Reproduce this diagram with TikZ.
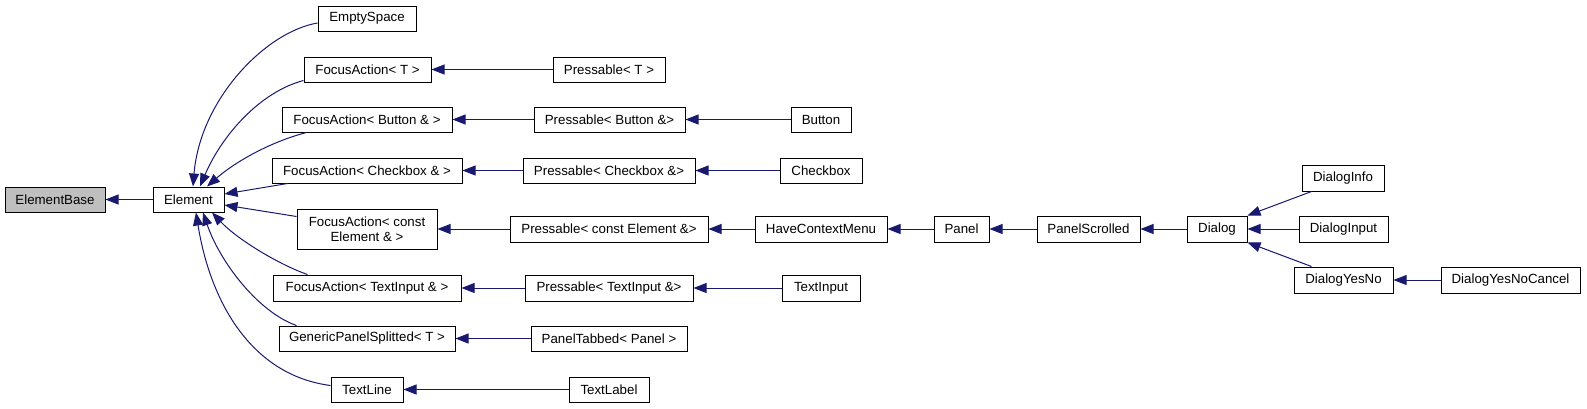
\documentclass[tikz,border=0pt]{standalone}
\usepackage{fontspec}
\setmainfont{Liberation Sans}
\usetikzlibrary{arrows.meta}
\definecolor{edgeblue}{RGB}{25,25,112}
\definecolor{basegray}{RGB}{191,191,191}
\begin{document}
\begin{tikzpicture}[x=1pt,y=-1pt,
  cls/.style={draw=black, line width=1pt, fill=white, minimum height=25pt, inner sep=0pt, font=\fontsize{13.3}{15.5}\selectfont, text=black},
  inh/.style={draw=edgeblue, line width=1pt, -{Triangle[length=13pt,width=10pt]}}]
\useasboundingbox (0,0) rectangle (1587,408);
% column 0/1
\node[cls, fill=basegray, minimum width=100pt] (elementbase) at (55,199.5) {ElementBase};
\node[cls, minimum width=71pt] (element) at (188.5,199.5) {Element};
% column 2
\node[cls, minimum width=98pt] (emptyspace) at (367,18.5) {EmptySpace};
\node[cls, minimum width=127pt] (focusT) at (367.5,69.5) {FocusAction< T >};
\node[cls, minimum width=170pt] (focusButton) at (367,119.5) {FocusAction< Button \& >};
\node[cls, minimum width=190pt] (focusCheckbox) at (367,170.5) {FocusAction< Checkbox \& >};
\node[cls, minimum width=140pt, minimum height=40pt, align=center] (focusConst) at (367,229) {FocusAction< const\\Element \& >};
\node[cls, minimum width=188pt, minimum height=26pt] (focusTextInput) at (367,288) {FocusAction< TextInput \& >};
\node[cls, minimum width=176pt] (generic) at (367,338.5) {GenericPanelSplitted< T >};
\node[cls, minimum width=72pt] (textline) at (367,389.5) {TextLine};
% column 3
\node[cls, minimum width=112pt] (pressT) at (609,69.5) {Pressable< T >};
\node[cls, minimum width=151pt] (pressButton) at (609.5,119.5) {Pressable< Button \&>};
\node[cls, minimum width=172pt] (pressCheckbox) at (609,170.5) {Pressable< Checkbox \&>};
\node[cls, minimum width=198pt, minimum height=26pt] (pressConst) at (609,229) {Pressable< const Element \&>};
\node[cls, minimum width=168pt, minimum height=26pt] (pressTextInput) at (609,288) {Pressable< TextInput \&>};
\node[cls, minimum width=156pt] (panelTabbed) at (609,338.5) {PanelTabbed< Panel >};
\node[cls, minimum width=80pt] (textlabel) at (609,389.5) {TextLabel};
% column 4
\node[cls, minimum width=60pt] (button) at (821,119.5) {Button};
\node[cls, minimum width=82pt] (checkbox) at (821,170.5) {Checkbox};
\node[cls, minimum width=132pt, minimum height=26pt] (haveContext) at (821,229) {HaveContextMenu};
\node[cls, minimum width=78pt, minimum height=26pt] (textinput) at (821,288) {TextInput};
% further columns
\node[cls, minimum width=55pt, minimum height=26pt] (panel) at (961.5,229) {Panel};
\node[cls, minimum width=103pt, minimum height=26pt] (panelScrolled) at (1088.5,229) {PanelScrolled};
\node[cls, minimum width=60pt, minimum height=26pt] (dialog) at (1217,229) {Dialog};
\node[cls, minimum width=82pt, minimum height=26pt] (dialogInfo) at (1343,178) {DialogInfo};
\node[cls, minimum width=89pt, minimum height=26pt] (dialogInput) at (1343.5,229) {DialogInput};
\node[cls, minimum width=99pt, minimum height=26pt] (dialogYesNo) at (1343.5,280) {DialogYesNo};
\node[cls, minimum width=139pt, minimum height=26pt] (dialogYesNoCancel) at (1510.5,280) {DialogYesNoCancel};
% edges
\draw[inh] (element) -- (elementbase);
\draw[inh] ([yshift=-4.5pt]emptyspace.west) .. controls (265,32) and (200,100) .. ([xshift=4.5pt]element.north);
\draw[inh] ([yshift=2pt]focusT.south west) .. controls (260,92) and (222,135) .. ([xshift=11.5pt]element.north);
\draw[inh] ([xshift=25pt]focusButton.south west) .. controls (270,142) and (235,162) .. ([xshift=18.5pt]element.north);
\draw[inh] ([xshift=16pt]focusCheckbox.south west) -- ([yshift=5.5pt]element.east);
\draw[inh] ([yshift=-8pt]focusConst.north west) -- ([yshift=-5.5pt]element.east);
\draw[inh] ([xshift=35pt]focusTextInput.north west) .. controls (280,265) and (238,240) .. ([xshift=23.5pt]element.south);
\draw[inh] ([xshift=18pt]generic.north west) .. controls (258,312) and (220,262) .. ([xshift=14.5pt]element.south);
\draw[inh] ([yshift=-9pt]textline.north west) .. controls (250,375) and (210,300) .. ([xshift=7.5pt]element.south);
\draw[inh] (pressT) -- (focusT);
\draw[inh] (pressButton) -- (focusButton);
\draw[inh] (button) -- (pressButton);
\draw[inh] (pressCheckbox) -- (focusCheckbox);
\draw[inh] (checkbox) -- (pressCheckbox);
\draw[inh] (pressConst) -- (focusConst);
\draw[inh] (haveContext) -- (pressConst);
\draw[inh] (panel) -- (haveContext);
\draw[inh] (panelScrolled) -- (panel);
\draw[inh] (dialog) -- (panelScrolled);
\draw[inh] (pressTextInput) -- (focusTextInput);
\draw[inh] (textinput) -- (pressTextInput);
\draw[inh] (panelTabbed) -- (generic);
\draw[inh] (textlabel) -- (textline);
\draw[inh] ([xshift=10pt]dialogInfo.south west) -- (dialog.north east);
\draw[inh] (dialogInput) -- (dialog);
\draw[inh] ([xshift=18pt]dialogYesNo.north west) -- (dialog.south east);
\draw[inh] (dialogYesNoCancel) -- (dialogYesNo);
\end{tikzpicture}
\end{document}
